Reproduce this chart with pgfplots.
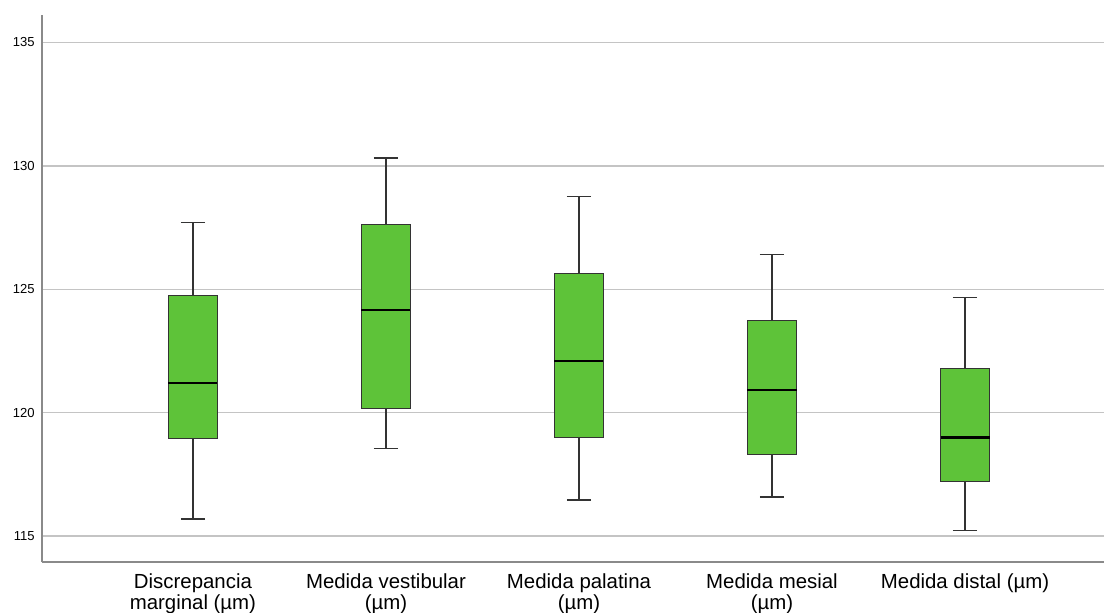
\documentclass[border=0pt]{standalone}
\usepackage{pgfplots}
\pgfplotsset{compat=1.18}
\usepgfplotslibrary{statistics}
\usepackage{fontspec}
\setmainfont{Liberation Sans}
\definecolor{boxgreen}{HTML}{5EC339}
\definecolor{gridgray}{HTML}{C4C4C4}
\definecolor{axgray}{HTML}{8A8A8A}
\begin{document}
\begin{tikzpicture}
\useasboundingbox (-31.5pt,-37.5pt) rectangle (796.5pt,421.5pt);
\begin{axis}[
  scale only axis,
  width=796.5pt, height=410pt,
  xmin=0.218, xmax=5.72,
  ymin=113.95, ymax=136.1,
  axis x line*=bottom, axis y line*=left,
  axis line style={axgray, line width=1pt},
  xtick={1,2,3,4,5},
  xticklabels={{Discrepancia\\marginal (µm)},{Medida vestibular\\(µm)},{Medida palatina\\(µm)},{Medida mesial\\(µm)},{Medida distal (µm)}},
  x tick label style={align=center, font=\fontsize{15.3}{15.75}\selectfont, yshift=-5.5pt},
  ytick={115,120,125,130,135},
  y tick label style={font=\fontsize{9.8}{10}\selectfont, xshift=-2pt},
  /pgf/number format/assume math mode=true,
  tick style={draw=none},
  ymajorgrids, grid style={gridgray, line width=1.1pt},
  boxplot/draw direction=y,
  boxplot/box extend=0.254,
  boxplot/whisker extend=0.125,
  boxplot/every median/.style={draw=black, line width=1.8pt},
  boxplot/every whisker/.style={draw=black!80, line width=0.9pt},
]
\addplot[solid, draw=black!80, line width=0.9pt, fill=boxgreen, boxplot prepared={draw position=1, lower whisker=115.69, lower quartile=118.95, median=121.21, upper quartile=124.76, upper whisker=127.69}] coordinates {};
\addplot[solid, draw=black!80, line width=0.9pt, fill=boxgreen, boxplot prepared={draw position=2, lower whisker=118.54, lower quartile=120.16, median=124.17, upper quartile=127.61, upper whisker=130.32}] coordinates {};
\addplot[solid, draw=black!80, line width=0.9pt, fill=boxgreen, boxplot prepared={draw position=3, lower whisker=116.46, lower quartile=118.99, median=122.10, upper quartile=125.65, upper whisker=128.75}] coordinates {};
\addplot[solid, draw=black!80, line width=0.9pt, fill=boxgreen, boxplot prepared={draw position=4, lower whisker=116.58, lower quartile=118.30, median=120.93, upper quartile=123.72, upper whisker=126.42}] coordinates {};
\addplot[solid, draw=black!80, line width=0.9pt, fill=boxgreen, boxplot prepared={draw position=5, lower whisker=115.24, lower quartile=117.22, median=119.00, upper quartile=121.78, upper whisker=124.66}] coordinates {};
\end{axis}
\end{tikzpicture}
\end{document}
